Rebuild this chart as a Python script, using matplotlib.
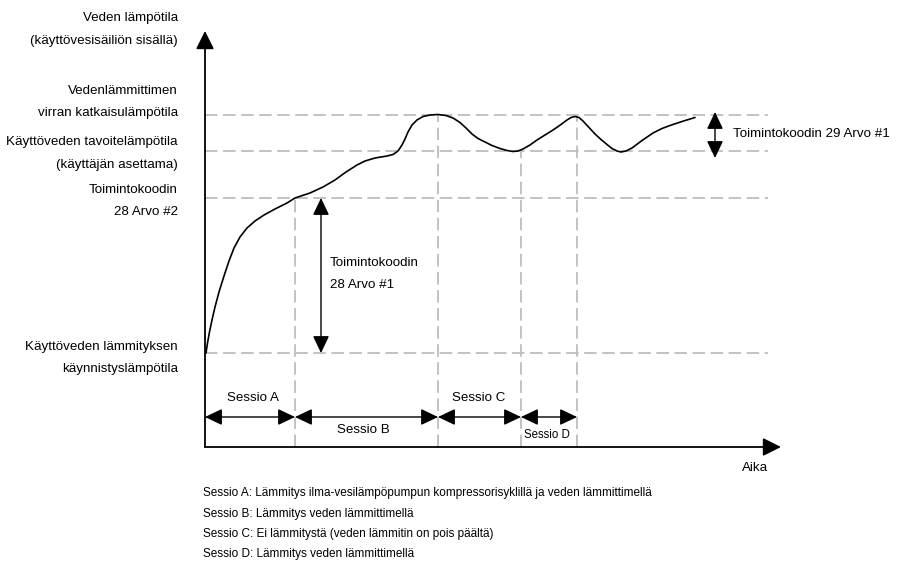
import matplotlib
matplotlib.use("Agg")
import matplotlib.pyplot as plt

plt.rcParams['font.family'] = ['Liberation Sans', 'DejaVu Sans']
plt.rcParams['lines.scale_dashes'] = False

# Temperature levels (arbitrary schematic units)
level_start = 9.4      # käynnistyslämpötila
level_fc28 = 24.9      # Toimintokoodin 28 Arvo #2
level_target = 29.6    # tavoitelämpötila
level_cutoff = 33.2    # virran katkaisulämpötila

# Session boundaries on the time axis
session_names = ["Sessio A", "Sessio B", "Sessio C", "Sessio D"]
session_edges = [0.0, 9.0, 23.3, 31.6, 37.2]
boundary_tops = [level_fc28, level_cutoff, level_target, level_cutoff]

# Water temperature curve
time_pts = [0.1, 0.25, 0.45, 0.7, 1.0, 1.4, 1.9, 2.4, 2.9, 3.5, 4.2, 5.0, 5.9, 7.0,
            8.2, 9.0, 10.5, 11.8, 13.0, 14.1, 15.2, 16.0, 17.0, 18.2, 18.8, 19.3,
            19.7, 20.0, 20.3, 20.7, 21.2, 21.8, 22.5, 23.3, 24.1, 24.8, 25.5, 26.1,
            26.7, 27.3, 28.0, 28.7, 29.5, 30.2, 30.8, 31.3, 31.8, 32.5, 33.2, 34.0,
            34.8, 35.6, 36.2, 36.6, 37.0, 37.4, 37.8, 38.4, 39.0, 39.6, 40.2, 40.7,
            41.2, 41.6, 42.1, 42.7, 43.7, 44.8, 45.7, 46.5, 47.7, 49.0]
temp_pts = [9.4, 10.4, 11.5, 12.7, 14.0, 15.5, 17.1, 18.6, 19.9, 21.0, 21.9, 22.6, 23.2, 23.8,
            24.4, 24.9, 25.4, 26.0, 26.7, 27.5, 28.2, 28.6, 28.9, 29.1, 29.25, 29.6,
            30.2, 30.8, 31.5, 32.2, 32.7, 33.05, 33.2, 33.25, 33.15, 32.9, 32.45, 31.9,
            31.3, 30.85, 30.5, 30.15, 29.85, 29.65, 29.55, 29.6, 29.8, 30.2, 30.7, 31.2,
            31.7, 32.25, 32.7, 32.95, 33.05, 32.95, 32.6, 31.95, 31.3, 30.75, 30.25, 29.85,
            29.6, 29.5, 29.6, 29.9, 30.65, 31.4, 31.85, 32.15, 32.55, 32.95]

legend_lines = [
    "Sessio A: Lämmitys ilma-vesilämpöpumpun kompressorisyklillä ja veden lämmittimellä",
    "Sessio B: Lämmitys veden lämmittimellä",
    "Sessio C: Ei lämmitystä (veden lämmitin on pois päältä)",
    "Sessio D: Lämmitys veden lämmittimellä",
]

fig = plt.figure(figsize=(8.98, 5.61), dpi=100)
ax = fig.add_axes([0, 0, 1, 1])
ax.set_xlim(-20.5, 69.3)
ax.set_ylim(-11.4, 44.7)
ax.axis('off')

FS = 9.6
grid_kw = dict(color='#bdbdbd', lw=1.3, dashes=(9, 4), zorder=1)

# Horizontal reference levels
for lvl in (level_start, level_fc28, level_target, level_cutoff):
    ax.plot([0, 56.3], [lvl, lvl], **grid_kw)

# Session boundary lines
for x, top in zip(session_edges[1:], boundary_tops):
    ax.plot([x, x], [0, top], **grid_kw)

# Axes with arrow heads
axis_arrow = dict(arrowstyle='-|>,head_length=1.1,head_width=0.55', mutation_scale=10,
                  color='black', lw=1.3, shrinkA=0, shrinkB=0)
ax.annotate('', xy=(0, 41.6), xytext=(0, 0), arrowprops=axis_arrow, zorder=5)
ax.annotate('', xy=(57.6, 0), xytext=(0, 0), arrowprops=axis_arrow, zorder=5)

# Temperature curve
ax.plot(time_pts, temp_pts, color='black', lw=1.2, zorder=4,
        solid_capstyle='round', solid_joinstyle='round')

# Double-headed dimension arrows
dbl = dict(arrowstyle='<|-|>,head_length=1.05,head_width=0.5', mutation_scale=10,
           color='black', lw=1.0, shrinkA=0, shrinkB=0)
session_y = 3.0
for a, b in zip(session_edges[:-1], session_edges[1:]):
    ax.annotate('', xy=(b, session_y), xytext=(a, session_y), arrowprops=dbl, zorder=5)

ax.text(4.8, 4.9, session_names[0], ha='center', va='center', fontsize=FS)
ax.text(15.8, 1.7, session_names[1], ha='center', va='center', fontsize=FS)
ax.text(27.4, 4.9, session_names[2], ha='center', va='center', fontsize=FS)
ax.text(34.2, 1.2, session_names[3], ha='center', va='center', fontsize=8.3)

# Toimintokoodin 28 Arvo #1
ax.annotate('', xy=(11.6, level_fc28), xytext=(11.6, level_start), arrowprops=dbl, zorder=5)
ax.text(12.5, 18.4, "Toimintokoodin", ha='left', va='center', fontsize=FS)
ax.text(12.5, 16.2, "28 Arvo #1", ha='left', va='center', fontsize=FS)

# Toimintokoodin 29 Arvo #1
ax.annotate('', xy=(51.0, 33.5), xytext=(51.0, 28.9), arrowprops=dbl, zorder=5)
ax.text(52.8, 31.3, "Toimintokoodin 29 Arvo #1", ha='left', va='center', fontsize=FS)

# Level labels on the left
left_labels = [
    ("Veden lämpötila", 42.9),
    ("(käyttövesisäiliön sisällä)", 40.6),
    ("Vedenlämmittimen", 35.6),
    ("virran katkaisulämpötila", 33.4),
    ("Käyttöveden tavoitelämpötila", 30.5),
    ("(käyttäjän asettama)", 28.2),
    ("Toimintokoodin", 25.7),
    ("28 Arvo #2", 23.5),
    ("Käyttöveden lämmityksen", 10.0),
    ("käynnistyslämpötila", 7.8),
]
for txt, y in left_labels:
    ax.text(-2.7, y, txt, ha='right', va='center', fontsize=FS)

ax.text(55.0, -2.1, "Aika", ha='center', va='center', fontsize=FS)

# Session descriptions
for i, line in enumerate(legend_lines):
    ax.text(-0.2, -4.6 - 2.05 * i, line, ha='left', va='center', fontsize=8.5)

fig.savefig("out.png", dpi=100)
